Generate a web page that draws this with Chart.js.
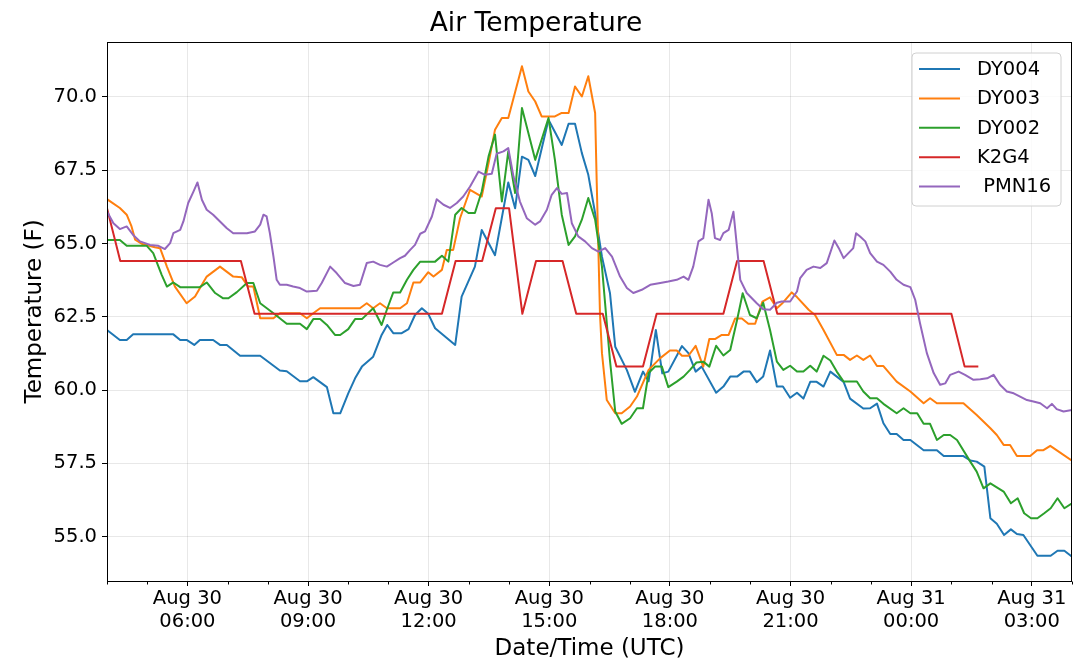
<!DOCTYPE html>
<html>
<head>
<meta charset="utf-8">
<script src="https://cdn.jsdelivr.net/npm/chart.js@4.4.0/dist/chart.umd.min.js"></script>
<style>
html,body{margin:0;padding:0;background:#ffffff;}
#wrap{width:1080px;height:671px;}
</style>
</head>
<body>
<div id="wrap"><canvas id="c" width="1080" height="671"></canvas></div>
<script>
// ---- Data (x = hours since Aug 30 00:00 UTC, y = temperature in F) ----
const seriesNames = ['DY004', 'DY003', 'DY002', 'K2G4', ' PMN16'];

const dy004Hours = [4.00,4.32,4.49,4.65,5.65,5.82,5.98,6.17,6.31,6.64,6.81,6.98,7.31,7.81,8.30,8.47,8.80,8.97,9.13,9.47,9.63,9.80,10.00,10.17,10.34,10.62,10.83,10.97,11.12,11.33,11.50,11.66,11.83,11.99,12.16,12.66,12.82,13.15,13.32,13.65,13.98,14.15,14.32,14.48,14.65,14.98,15.31,15.48,15.64,15.81,15.97,16.14,16.31,16.51,16.64,16.93,17.13,17.33,17.47,17.65,17.81,17.96,18.30,18.46,18.64,18.79,19.15,19.33,19.50,19.67,19.83,19.99,20.16,20.32,20.49,20.66,20.81,20.99,21.16,21.32,21.49,21.65,21.82,21.99,22.32,22.48,22.81,22.98,23.15,23.31,23.48,23.64,23.81,23.98,24.31,24.64,24.81,25.30,25.47,25.63,25.82,25.97,26.13,26.31,26.48,26.63,26.79,27.14,27.47,27.64,27.81,27.97,28.00];
const dy004Temp = [62.05,61.71,61.71,61.90,61.90,61.71,61.71,61.54,61.71,61.71,61.54,61.54,61.17,61.17,60.67,60.64,60.30,60.30,60.44,60.10,59.21,59.21,59.89,60.40,60.80,61.14,61.88,62.22,61.94,61.94,62.08,62.56,62.79,62.60,62.11,61.54,63.19,64.21,65.46,64.60,67.08,66.20,67.96,67.85,67.30,69.22,68.36,69.08,69.08,68.08,67.34,66.03,64.55,63.30,61.48,60.68,59.94,60.63,60.30,62.05,60.57,60.63,61.50,61.26,60.63,60.80,59.91,60.12,60.46,60.46,60.63,60.63,60.27,60.46,61.35,60.12,60.12,59.74,59.91,59.71,60.28,60.28,60.12,60.63,60.28,59.71,59.37,59.38,59.54,58.87,58.50,58.50,58.30,58.30,57.95,57.95,57.75,57.75,57.60,57.56,57.39,55.63,55.44,55.06,55.25,55.09,55.06,54.35,54.35,54.52,54.52,54.35,54.33];

const dy003Hours = [4.00,4.32,4.49,4.61,4.70,4.86,5.19,5.32,5.49,5.69,5.98,6.19,6.48,6.81,7.14,7.35,7.51,7.64,7.81,8.14,8.30,8.80,8.97,9.13,9.30,10.29,10.46,10.62,10.79,10.96,11.29,11.46,11.62,11.79,11.99,12.12,12.33,12.45,12.61,12.78,13.03,13.32,13.49,13.65,13.82,13.98,14.32,14.48,14.65,14.81,15.14,15.31,15.48,15.64,15.81,15.97,16.14,16.18,16.26,16.31,16.43,16.64,16.80,17.01,17.18,17.47,17.76,18.00,18.17,18.30,18.46,18.64,18.83,18.98,19.12,19.29,19.46,19.62,19.79,19.95,20.12,20.30,20.49,20.66,20.81,21.03,21.16,21.45,21.61,21.82,22.15,22.32,22.48,22.65,22.81,22.98,23.15,23.31,23.64,23.98,24.31,24.47,24.64,25.30,25.63,25.97,26.13,26.30,26.46,26.63,26.96,27.13,27.29,27.46,28.00];
const dy003Temp = [66.51,66.21,65.98,65.58,65.13,64.99,64.87,64.84,64.21,63.53,62.96,63.19,63.87,64.21,63.87,63.85,63.53,63.53,62.45,62.45,62.62,62.62,62.45,62.62,62.79,62.79,62.96,62.79,62.96,62.79,62.79,62.96,63.67,63.67,64.02,63.87,64.10,64.78,64.78,65.86,66.83,66.60,67.74,68.88,69.28,69.28,71.04,70.18,69.84,69.33,69.33,69.45,69.45,70.35,70.01,70.70,69.45,67.06,62.62,61.26,59.66,59.21,59.21,59.44,59.78,60.69,61.09,61.35,61.35,61.17,61.17,61.51,60.80,61.74,61.74,61.88,61.88,62.44,62.44,62.26,62.26,63.02,63.16,62.79,62.98,63.33,63.17,62.74,62.56,62.05,61.20,61.20,61.03,61.18,61.03,61.18,60.82,60.82,60.29,59.95,59.55,59.72,59.55,59.55,59.15,58.70,58.47,58.13,58.13,57.75,57.75,57.95,57.95,58.10,57.59];

const dy002Hours = [4.00,4.32,4.49,4.99,5.15,5.36,5.49,5.65,5.82,6.31,6.48,6.69,6.89,7.02,7.23,7.48,7.64,7.81,8.14,8.47,8.80,8.97,9.13,9.30,9.47,9.67,9.80,10.00,10.17,10.34,10.62,10.83,10.96,11.12,11.29,11.46,11.62,11.79,12.16,12.33,12.49,12.66,12.82,12.99,13.15,13.32,13.49,13.65,13.82,13.98,14.15,14.32,14.65,14.98,15.14,15.31,15.48,15.64,15.81,15.97,16.14,16.31,16.51,16.64,16.80,17.01,17.18,17.33,17.47,17.63,17.80,17.96,18.17,18.34,18.50,18.66,18.83,18.98,19.15,19.33,19.50,19.67,19.81,19.99,20.16,20.32,20.49,20.66,20.82,20.99,21.16,21.32,21.49,21.65,21.82,21.99,22.15,22.32,22.65,22.81,22.98,23.15,23.31,23.64,23.81,23.98,24.15,24.31,24.47,24.64,24.81,24.97,25.14,25.47,25.63,25.80,25.97,26.30,26.48,26.65,26.81,26.98,27.14,27.31,27.47,27.64,27.81,28.00];
const dy002Temp = [65.12,65.12,64.92,64.92,64.67,63.93,63.53,63.67,63.51,63.51,63.67,63.31,63.13,63.13,63.34,63.65,63.65,62.96,62.62,62.26,62.26,62.08,62.42,62.42,62.22,61.88,61.88,62.08,62.42,62.42,62.79,62.22,62.74,63.33,63.33,63.76,64.10,64.38,64.38,64.58,64.38,65.98,66.21,66.04,66.04,66.77,67.97,68.71,66.43,68.14,66.72,69.62,67.85,69.28,67.85,65.98,64.95,65.24,65.81,66.55,65.81,64.21,61.00,59.27,58.85,59.04,59.38,59.38,60.58,60.80,60.80,60.10,60.29,60.46,60.69,60.94,60.97,60.80,61.51,61.18,61.37,62.39,63.30,62.56,62.45,62.98,62.05,60.97,60.69,60.83,60.63,60.63,60.83,60.63,61.17,61.01,60.63,60.29,60.29,59.95,59.72,59.72,59.53,59.21,59.38,59.21,59.21,58.85,58.85,58.30,58.47,58.47,58.30,57.56,57.22,56.65,56.82,56.54,56.14,56.31,55.80,55.63,55.63,55.80,55.97,56.31,55.97,56.14];

const k2g4Hours = [4.00,4.33,7.33,7.67,12.33,12.67,13.33,13.67,14.00,14.33,14.67,15.33,15.67,16.33,16.67,17.33,17.67,19.33,19.67,20.33,20.67,25.00,25.33,25.67];
const k2g4Temp = [66.2,64.4,64.4,62.6,62.6,64.4,64.4,66.2,66.2,62.6,64.4,64.4,62.6,62.6,60.8,60.8,62.6,62.6,64.4,64.4,62.6,62.6,60.8,60.8];

const pmn16Hours = [4.00,4.16,4.32,4.49,4.65,4.82,5.07,5.28,5.44,5.57,5.65,5.82,5.90,6.02,6.15,6.25,6.36,6.48,6.64,6.81,6.98,7.14,7.48,7.68,7.81,7.89,7.97,8.05,8.14,8.22,8.30,8.47,8.63,8.80,8.97,9.22,9.34,9.55,9.71,9.92,10.13,10.29,10.46,10.62,10.79,10.96,11.12,11.29,11.41,11.54,11.66,11.79,11.91,12.08,12.20,12.37,12.53,12.70,12.86,13.03,13.24,13.40,13.57,13.69,13.86,13.98,14.11,14.27,14.44,14.65,14.77,14.94,15.06,15.19,15.31,15.44,15.56,15.72,15.89,16.06,16.22,16.39,16.56,16.76,16.93,17.09,17.30,17.51,17.76,17.96,18.17,18.34,18.46,18.58,18.71,18.83,18.96,19.04,19.12,19.25,19.33,19.46,19.58,19.65,19.75,19.91,20.16,20.32,20.49,20.66,20.78,20.99,21.16,21.24,21.40,21.57,21.74,21.90,22.09,22.20,22.32,22.44,22.56,22.63,22.73,22.86,22.98,23.15,23.31,23.48,23.64,23.81,23.98,24.10,24.22,24.39,24.56,24.72,24.85,24.97,25.18,25.34,25.55,25.72,25.89,26.05,26.21,26.38,26.55,26.71,26.88,27.04,27.21,27.38,27.50,27.62,27.79,28.00];
const pmn16Temp = [66.09,65.69,65.49,65.58,65.29,65.07,64.95,64.92,64.81,65.01,65.35,65.46,65.75,66.38,66.77,67.08,66.49,66.15,65.98,65.75,65.52,65.35,65.35,65.41,65.64,65.98,65.92,65.35,64.55,63.76,63.59,63.59,63.53,63.48,63.36,63.39,63.65,64.21,63.99,63.65,63.55,63.59,64.33,64.38,64.27,64.21,64.35,64.50,64.58,64.78,64.95,65.33,65.41,65.92,66.51,66.32,66.21,66.38,66.60,66.94,67.45,67.34,67.38,68.06,68.14,68.25,67.28,66.43,65.86,65.64,65.75,66.15,66.66,66.89,66.69,66.72,65.69,65.24,65.07,64.84,64.72,64.84,64.55,63.87,63.48,63.31,63.42,63.59,63.65,63.70,63.76,63.87,63.76,64.21,65.07,65.18,66.49,66.03,65.18,65.12,65.35,65.46,66.08,65.12,63.76,63.31,62.96,62.76,62.74,62.98,63.02,63.02,63.36,63.82,64.10,64.21,64.16,64.33,65.10,64.84,64.50,64.67,64.84,65.35,65.24,65.07,64.67,64.38,64.27,64.04,63.76,63.59,63.51,63.08,62.28,61.26,60.58,60.18,60.23,60.52,60.63,60.52,60.35,60.37,60.40,60.52,60.18,59.95,59.89,59.78,59.66,59.61,59.55,59.38,59.53,59.35,59.27,59.32];

// Tick labels
const xTickHours = [6, 9, 12, 15, 18, 21, 24, 27];
const xTickDates = ['Aug 30','Aug 30','Aug 30','Aug 30','Aug 30','Aug 30','Aug 31','Aug 31'];
const xTickTimes = ['06:00','09:00','12:00','15:00','18:00','21:00','00:00','03:00'];
const xMinorHours = [4,5,6,7,8,9,10,11,12,13,14,15,16,17,18,19,20,21,22,23,24,25,26,27,28];
const yTickValues = [55.0, 57.5, 60.0, 62.5, 65.0, 67.5, 70.0];

// ---- Chart ----
const FONT = "'DejaVu Sans', sans-serif";
const COLORS = ['#1f77b4', '#ff7f0e', '#2ca02c', '#d62728', '#9467bd'];
const GRID = 'rgba(0,0,0,0.09)';

function toPoints(hours, temps) { return hours.map((h, i) => ({ x: h, y: temps[i] })); }
const seriesData = [
  toPoints(dy004Hours, dy004Temp),
  toPoints(dy003Hours, dy003Temp),
  toPoints(dy002Hours, dy002Temp),
  toPoints(k2g4Hours, k2g4Temp),
  toPoints(pmn16Hours, pmn16Temp)
];
const isMajor = v => xTickHours.indexOf(v) >= 0;

const framePlugin = {
  id: 'frameAndLegend',
  afterDatasetsDraw(chart) {
    const { ctx, chartArea } = chart;
    const L = Math.round(chartArea.left) + 0.5, T = Math.round(chartArea.top) + 0.5;
    const R = Math.round(chartArea.right) - 0.5, B = Math.round(chartArea.bottom) + 0.5;
    ctx.save();
    ctx.strokeStyle = '#000';
    ctx.lineWidth = 1;
    ctx.strokeRect(L, T, R - L, B - T);

    // minor ticks on x axis
    const xs = chart.scales.x;
    ctx.beginPath();
    xMinorHours.forEach(h => {
      if (isMajor(h)) return;
      const px = Math.round(xs.getPixelForValue(h)) + 0.5;
      ctx.moveTo(px, B);
      ctx.lineTo(px, B + 3);
    });
    ctx.stroke();

    // legend
    const bx = 912, by = 53, bw = 149, bh = 153, r = 4;
    ctx.beginPath();
    ctx.moveTo(bx + r, by);
    ctx.lineTo(bx + bw - r, by); ctx.arcTo(bx + bw, by, bx + bw, by + r, r);
    ctx.lineTo(bx + bw, by + bh - r); ctx.arcTo(bx + bw, by + bh, bx + bw - r, by + bh, r);
    ctx.lineTo(bx + r, by + bh); ctx.arcTo(bx, by + bh, bx, by + bh - r, r);
    ctx.lineTo(bx, by + r); ctx.arcTo(bx, by, bx + r, by, r);
    ctx.closePath();
    ctx.fillStyle = 'rgba(255,255,255,0.8)';
    ctx.fill();
    ctx.strokeStyle = '#d0d0d0';
    ctx.stroke();

    ctx.font = '19.5px ' + FONT;
    ctx.textBaseline = 'middle';
    ctx.textAlign = 'left';
    chart.data.datasets.forEach((ds, i) => {
      const cy = by + 16 + i * 29.4;
      ctx.strokeStyle = ds.borderColor;
      ctx.lineWidth = 2;
      ctx.beginPath();
      ctx.moveTo(919, cy);
      ctx.lineTo(960, cy);
      ctx.stroke();
      ctx.fillStyle = '#000';
      ctx.fillText(ds.label, 977, cy + 0.8);
    });
    ctx.restore();
  }
};

new Chart(document.getElementById('c'), {
  type: 'line',
  data: {
    datasets: seriesNames.map((name, i) => ({
      label: name,
      data: seriesData[i],
      borderColor: COLORS[i],
      backgroundColor: COLORS[i],
      borderWidth: 2,
      pointRadius: 0,
      pointHoverRadius: 0,
      tension: 0,
      fill: false,
      borderJoinStyle: 'round',
      borderCapStyle: 'butt',
      order: seriesNames.length - i
    }))
  },
  options: {
    responsive: false,
    animation: false,
    devicePixelRatio: 1,
    events: [],
    layout: { padding: { left: 0, right: 8, top: 0, bottom: 0 } },
    plugins: {
      legend: { display: false },
      tooltip: { enabled: false },
      title: {
        display: true,
        text: 'Air Temperature',
        color: '#000',
        font: { family: FONT, size: 26.5, weight: 'normal', lineHeight: 1.2 },
        padding: { top: 8, bottom: 2 }
      }
    },
    scales: {
      x: {
        type: 'linear',
        min: 4,
        max: 28,
        afterBuildTicks: s => { s.ticks = xMinorHours.map(v => ({ value: v })); },
        afterFit: s => { s.height = 90; },
        ticks: {
          autoSkip: false,
          maxRotation: 0,
          minRotation: 0,
          padding: 2,
          color: '#000',
          font: { family: FONT, size: 19.5, lineHeight: 1.15 },
          callback: v => { const i = xTickHours.indexOf(v); return i < 0 ? '' : [xTickDates[i], xTickTimes[i]]; }
        },
        grid: {
          color: c => (c.tick && isMajor(c.tick.value)) ? GRID : 'rgba(0,0,0,0)',
          tickColor: c => (c.tick && isMajor(c.tick.value)) ? '#000' : 'rgba(0,0,0,0)',
          tickLength: 5,
          lineWidth: 1
        },
        border: { display: false },
        title: {
          display: true,
          text: 'Date/Time (UTC)',
          color: '#000',
          font: { family: FONT, size: 23, lineHeight: 1.2 },
          padding: { top: 0, bottom: 8 }
        }
      },
      y: {
        type: 'linear',
        min: 53.49,
        max: 71.876,
        afterBuildTicks: s => { s.ticks = yTickValues.map(v => ({ value: v })); },
        afterFit: s => { s.width = 107; },
        ticks: {
          padding: 5,
          color: '#000',
          font: { family: FONT, size: 19.5 },
          callback: v => Number(v).toFixed(1)
        },
        grid: { color: GRID, tickColor: '#000', tickLength: 5, lineWidth: 1 },
        border: { display: false },
        title: {
          display: true,
          text: 'Temperature (F)',
          color: '#000',
          font: { family: FONT, size: 23, lineHeight: 1.2 },
          padding: { top: 21, bottom: 0 }
        }
      }
    }
  },
  plugins: [framePlugin]
});
</script>
</body>
</html>
